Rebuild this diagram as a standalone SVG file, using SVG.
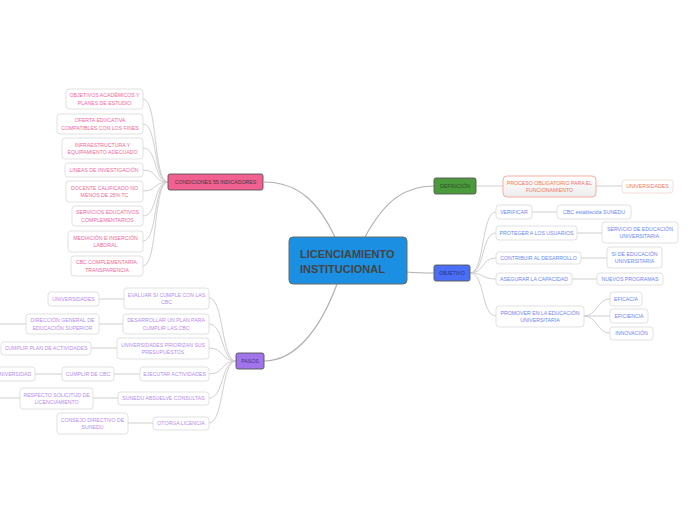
<svg xmlns="http://www.w3.org/2000/svg" width="696" height="520" viewBox="0 0 696 520">
<defs>
<linearGradient id="gp" x1="0" y1="0" x2="0" y2="1"><stop offset="0" stop-color="#ffffff"/><stop offset="1" stop-color="#ececec"/></linearGradient>
<style>
text{font-family:"Liberation Sans",Arial,sans-serif;font-size:5.2px;text-anchor:middle}
.c{fill:none;stroke:#cfcfcf;stroke-width:1}
.m{fill:none;stroke:#b0b0b0;stroke-width:1.2}
.b{fill:#fff;stroke:#d9d9d9;stroke-width:0.8}
.pk{fill:#f0689c}
.bl{fill:#6c86f3}
.pu{fill:#b58cef}
.co{fill:#f27560}
.n{stroke:#555;stroke-width:0.9}
.nt{fill:#3b3b3b}
</style>
</defs>
<rect width="696" height="520" fill="#fff"/>
<g id="connectors">
<path class="m" d="M264,182 C300,182 320,205 335,237"/>
<path class="m" d="M365,237 C385,200 405,186 434,186"/>
<path class="m" d="M407,272 C418,273 424,273 434,273"/>
<path class="m" d="M337,284 C320,330 295,361 264,361"/>
<path class="c" d="M143,99 C158,99 153,182 168,182"/>
<path class="c" d="M143,124 C158,124 153,182 168,182"/>
<path class="c" d="M143,148 C158,148 153,182 168,182"/>
<path class="c" d="M143,170 C158,170 153,182 168,182"/>
<path class="c" d="M143,191 C158,191 153,182 168,182"/>
<path class="c" d="M143,216 C158,216 153,182 168,182"/>
<path class="c" d="M143,241 C158,241 153,182 168,182"/>
<path class="c" d="M143,266 C158,266 153,182 168,182"/>
<path class="c" d="M477,186 L503,186"/>
<path class="c" d="M596,186 L622,186"/>
<path class="c" d="M470,273 C485,273 481,212 496,212"/>
<path class="c" d="M470,273 C485,273 481,233 496,233"/>
<path class="c" d="M470,273 C485,273 481,258 496,258"/>
<path class="c" d="M470,273 C485,273 481,279 496,279"/>
<path class="c" d="M470,273 C485,273 481,316 496,316"/>
<path class="c" d="M532,212 L557,212"/>
<path class="c" d="M577,233 L602,233"/>
<path class="c" d="M581,258 L607,258"/>
<path class="c" d="M572,279 L597,279"/>
<path class="c" d="M584,316 C597,316 597,299 610,299"/>
<path class="c" d="M584,316 L610,316"/>
<path class="c" d="M584,316 C597,316 597,333 610,333"/>
<path class="c" d="M209,298 C224,298 221,361 236,361"/>
<path class="c" d="M209,324 C224,324 221,361 236,361"/>
<path class="c" d="M209,348 C224,348 221,361 236,361"/>
<path class="c" d="M209,374 C224,374 221,361 236,361"/>
<path class="c" d="M209,398 C224,398 221,361 236,361"/>
<path class="c" d="M209,423 C224,423 221,361 236,361"/>
<path class="c" d="M99,299 L124,299"/>
<path class="c" d="M99,324 L123,324"/>
<path class="c" d="M0,324 L26,324"/>
<path class="c" d="M91,348 L117,348"/>
<path class="c" d="M114,374 L140,374"/>
<path class="c" d="M35,374 L62,374"/>
<path class="c" d="M93,398 L118,398"/>
<path class="c" d="M0,398 L20,398"/>
<path class="c" d="M128,423 L153,423"/>
</g>
<g id="central">
<rect x="289" y="237" width="118" height="47" rx="4" fill="#1b90e2" stroke="#6b6b6b" stroke-width="1"/>
<text x="300" y="258" style="font-size:11px;font-weight:bold;text-anchor:start" fill="#444">LICENCIAMIENTO</text>
<text x="300" y="273" style="font-size:11px;font-weight:bold;text-anchor:start" fill="#444">INSTITUCIONAL</text>
</g>
<g id="condiciones">
<rect class="n" x="168" y="174" width="95" height="16" rx="2" fill="#f25f91"/>
<text class="nt" x="215.5" y="184">CONDICIONES 55 INDICADORES</text>
</g>
<g id="definicion">
<rect class="n" x="434" y="178" width="42" height="16" rx="2" fill="#4b9a3c"/>
<text x="455" y="188" fill="#2c4e26">DEFINICIÓN</text>
</g>
<g id="objetivo">
<rect class="n" x="434" y="265" width="36" height="16" rx="2" fill="#4b6ef6"/>
<text x="452" y="275" fill="#2a3570">OBJETIVO</text>
</g>
<g id="pasos">
<rect class="n" x="236" y="353" width="28" height="16" rx="2" fill="#a274ec"/>
<text x="250" y="363" fill="#4a3470">PASOS</text>
</g>
<g id="c1"><rect class="b" x="66" y="89" width="77" height="20" rx="3"/><text class="pk" x="104.5" y="97">OBJETIVOS ACADÉMICOS Y</text><text class="pk" x="104.5" y="104.5">PLANES DE ESTUDIO</text></g>
<g id="c2"><rect class="b" x="57" y="114" width="86" height="20" rx="3"/><text class="pk" x="100" y="122">OFERTA EDUCATIVA</text><text class="pk" x="100" y="129.5">COMPATIBLES CON LOS FINES</text></g>
<g id="c3"><rect class="b" x="62" y="138" width="81" height="21" rx="3"/><text class="pk" x="102.5" y="146.5">INFRAESTRUCTURA Y</text><text class="pk" x="102.5" y="154">EQUIPAMIENTO ADECUADO</text></g>
<g id="c4"><rect class="b" x="65" y="163" width="78" height="14" rx="3"/><text class="pk" x="104" y="171.8">LINEAS DE INVESTIGACIÓN</text></g>
<g id="c5"><rect class="b" x="66" y="181" width="77" height="21" rx="3"/><text class="pk" x="104.5" y="189.5">DOCENTE CALIFICADO NO</text><text class="pk" x="104.5" y="197">MENOS DE 25% TC</text></g>
<g id="c6"><rect class="b" x="72" y="206" width="71" height="20" rx="3"/><text class="pk" x="107.5" y="214">SERVICIOS EDUCATIVOS</text><text class="pk" x="107.5" y="221.5">COMPLEMENTARIOS</text></g>
<g id="c7"><rect class="b" x="68" y="231" width="75" height="21" rx="3"/><text class="pk" x="105.5" y="239.5">MEDIACIÓN E INSERCIÓN</text><text class="pk" x="105.5" y="247">LABORAL</text></g>
<g id="c8"><rect class="b" x="71" y="256" width="72" height="20" rx="3"/><text class="pk" x="107" y="264">CBC COMPLEMENTARIA:</text><text class="pk" x="107" y="271.5">TRANSPARENCIA</text></g>
<g id="d1"><rect x="503" y="176" width="93" height="21" rx="4" fill="url(#gp)" stroke="#f4a898" stroke-width="0.9"/><text class="co" x="549.5" y="184.5">PROCESO OBLIGATORIO PARA EL</text><text class="co" x="549.5" y="192">FUNCIONAMIENTO</text></g>
<g id="d2"><rect class="b" x="622" y="180" width="51" height="13" rx="3" style="stroke:#efd6d2"/><text class="co" x="647.5" y="188.3">UNIVERSIDADES</text></g>
<g id="o1"><rect class="b" x="496" y="205" width="36" height="14" rx="3"/><text class="bl" x="514" y="213.8">VERIFICAR</text></g>
<g id="o1a"><rect class="b" x="557" y="205" width="74" height="14" rx="3"/><text class="bl" x="594" y="213.8">CBC establecida SUNEDU</text></g>
<g id="o2"><rect class="b" x="496" y="226" width="81" height="14" rx="3"/><text class="bl" x="536.5" y="234.8">PROTEGER A LOS USUARIOS</text></g>
<g id="o2a"><rect class="b" x="602" y="222" width="76" height="21" rx="3"/><text class="bl" x="640" y="230.5">SERVICIO DE EDUCACIÓN</text><text class="bl" x="640" y="238">UNIVERSITARIA.</text></g>
<g id="o3"><rect class="b" x="496" y="252" width="85" height="12" rx="3"/><text class="bl" x="538.5" y="259.8">CONTRIBUIR AL DESARROLLO</text></g>
<g id="o3a"><rect class="b" x="607" y="247" width="55" height="21" rx="3"/><text class="bl" x="634.5" y="255.5">SI DE EDUCACIÓN</text><text class="bl" x="634.5" y="263">UNIVERSITARIA</text></g>
<g id="o4"><rect class="b" x="496" y="273" width="76" height="12" rx="3"/><text class="bl" x="534" y="280.8">ASEGURAR LA CAPACIDAD</text></g>
<g id="o4a"><rect class="b" x="597" y="273" width="66" height="12" rx="3"/><text class="bl" x="630" y="280.8">NUEVOS PROGRAMAS</text></g>
<g id="o5"><rect class="b" x="496" y="306" width="88" height="21" rx="3"/><text class="bl" x="540" y="314.5">PROMOVER EN LA EDUCACIÓN</text><text class="bl" x="540" y="322">UNIVERSITARIA</text></g>
<g id="o5a"><rect class="b" x="610" y="292" width="32" height="14" rx="3"/><text class="bl" x="626" y="300.8">EFICACIA</text></g>
<g id="o5b"><rect class="b" x="610" y="309" width="38" height="14" rx="3"/><text class="bl" x="629" y="317.8">EFICIENCIA</text></g>
<g id="o5c"><rect class="b" x="610" y="327" width="43" height="13" rx="3"/><text class="bl" x="631.5" y="335.3">INNOVACIÓN</text></g>
<g id="p1"><rect class="b" x="124" y="288" width="85" height="21" rx="3"/><text class="pu" x="166.5" y="296.5">EVALUAR SI CUMPLE CON LAS</text><text class="pu" x="166.5" y="304">CBC</text></g>
<g id="p1a"><rect class="b" x="48" y="292" width="51" height="14" rx="3"/><text class="pu" x="73.5" y="300.8">UNIVERSIDADES</text></g>
<g id="p2"><rect class="b" x="123" y="314" width="86" height="20" rx="3"/><text class="pu" x="166" y="322">DESARROLLAR UN PLAN PARA</text><text class="pu" x="166" y="329.5">CUMPLIR LAS CBC</text></g>
<g id="p2a"><rect class="b" x="26" y="314" width="73" height="20" rx="3"/><text class="pu" x="62.5" y="322">DIRECCIÓN GENERAL DE</text><text class="pu" x="62.5" y="329.5">EDUCACIÓN SUPERIOR</text></g>
<g id="p3"><rect class="b" x="117" y="338" width="92" height="21" rx="3"/><text class="pu" x="163" y="346.5">UNIVERSIDADES PRIORIZAN SUS</text><text class="pu" x="163" y="354">PRESUPUESTOS</text></g>
<g id="p3a"><rect class="b" x="1" y="342" width="90" height="13" rx="3"/><text class="pu" x="46" y="350.3">CUMPLIR PLAN DE ACTIVIDADES</text></g>
<g id="p4"><rect class="b" x="140" y="367" width="69" height="14" rx="3"/><text class="pu" x="174.5" y="375.8">EJECUTAR ACTIVIDADES</text></g>
<g id="p4a"><rect class="b" x="62" y="367" width="52" height="14" rx="3"/><text class="pu" x="88" y="375.8">CUMPLIR DE CBC</text></g>
<g id="p4b"><rect class="b" x="-8" y="367" width="43" height="14" rx="3"/><text class="pu" x="13.5" y="375.8">UNIVERSIDAD</text></g>
<g id="p5"><rect class="b" x="118" y="392" width="91" height="13" rx="3"/><text class="pu" x="163.5" y="400.3">SUNEDU ABSUELVE CONSULTAS</text></g>
<g id="p5a"><rect class="b" x="20" y="388" width="73" height="21" rx="3"/><text class="pu" x="56.5" y="396.5">RESPECTO SOLICITUD DE</text><text class="pu" x="56.5" y="404">LICENCIAMIENTO</text></g>
<g id="p6"><rect class="b" x="153" y="417" width="56" height="13" rx="3"/><text class="pu" x="181" y="425.3">OTORGA LICENCIA</text></g>
<g id="p6a"><rect class="b" x="57" y="413" width="71" height="21" rx="3"/><text class="pu" x="92.5" y="421.5">CONSEJO DIRECTIVO DE</text><text class="pu" x="92.5" y="429">SUNEDU</text></g>
</svg>
